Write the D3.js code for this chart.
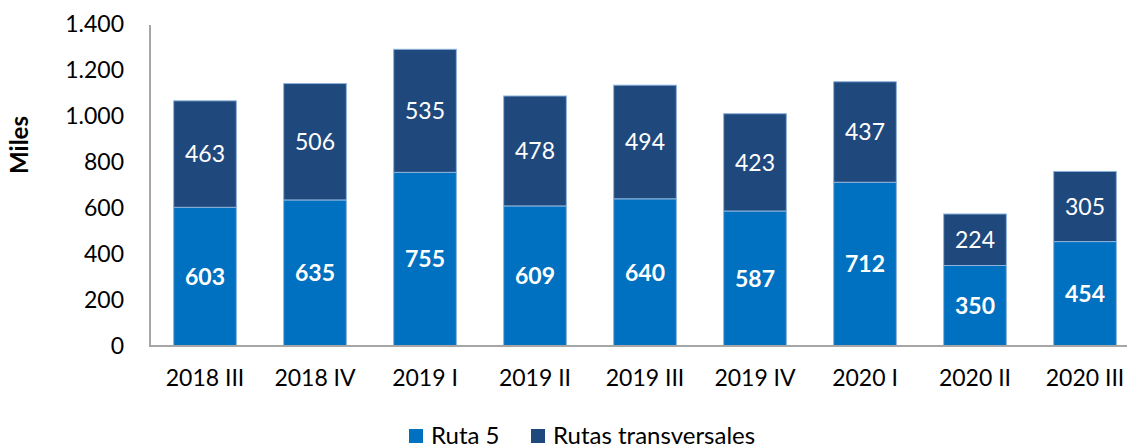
<!DOCTYPE html>
<html>
<head>
<meta charset="utf-8">
<script src="https://cdn.jsdelivr.net/npm/d3@7"></script>
<style>
  body { margin: 0; background: #fff; }
  svg { font-family: Lato, "Open Sans", sans-serif; }
</style>
</head>
<body>
<script>
var categories = ["2018 III", "2018 IV", "2019 I", "2019 II", "2019 III",
                  "2019 IV", "2020 I", "2020 II", "2020 III"];
var ruta5 = [603, 635, 755, 609, 640, 587, 712, 350, 454];
var transversales = [463, 506, 535, 478, 494, 423, 437, 224, 305];
var yTicks = [0, 200, 400, 600, 800, 1000, 1200, 1400];
var seriesNames = ["Ruta 5", "Rutas transversales"];
var colors = ["#0070c0", "#1f497d"];

var width = 1127, height = 445;
var plotLeft = 150, plotRight = 1140, plotTop = 24, plotBottom = 346;

var svg = d3.select("body").append("svg")
  .attr("width", width)
  .attr("height", height);

var x = d3.scaleBand()
  .domain(categories)
  .range([plotLeft, plotRight])
  .paddingInner(0.43)
  .paddingOuter(0.215);

var y = d3.scaleLinear()
  .domain([0, 1400])
  .range([plotBottom, plotTop]);

// build the stacked table
var rows = categories.map(function(c, i) {
  return { cat: c, "Ruta 5": ruta5[i], "Rutas transversales": transversales[i] };
});
var stacked = d3.stack().keys(seriesNames)(rows);

// y axis labels (no tick marks)
var yAxis = svg.append("g")
  .attr("transform", "translate(" + plotLeft + ",0)")
  .call(d3.axisLeft(y).tickValues(yTicks).tickSize(0).tickPadding(26)
    .tickFormat(function(d) { return d3.format(",")(d).replace(/,/g, "."); }));
yAxis.select(".domain").remove();
yAxis.selectAll("text")
  .attr("font-size", 23)
  .attr("font-family", "Lato, sans-serif")
  .attr("fill", "#000");

// bars
var layer = svg.append("g").selectAll("g")
  .data(stacked)
  .enter().append("g")
  .attr("fill", function(d, i) { return colors[i]; });

layer.selectAll("rect")
  .data(function(d) { return d; })
  .enter().append("rect")
  .attr("x", function(d) { return x(d.data.cat); })
  .attr("width", x.bandwidth())
  .attr("y", function(d) { return y(d[1]); })
  .attr("height", function(d) { return y(d[0]) - y(d[1]); })
  .attr("stroke", "#8db3dc")
  .attr("stroke-width", 1);

// value labels
layer.each(function(s, si) {
  d3.select(this).selectAll("text")
    .data(s)
    .enter().append("text")
    .attr("x", function(d) { return x(d.data.cat) + x.bandwidth() / 2; })
    .attr("y", function(d) { return (y(d[0]) + y(d[1])) / 2; })
    .attr("dy", "0.36em")
    .attr("text-anchor", "middle")
    .attr("fill", "#fff")
    .attr("font-size", 23)
    .attr("font-weight", si == 0 ? "bold" : "normal")
    .text(function(d) { return d[1] - d[0]; });
});

// axis lines
svg.append("line")
  .attr("x1", plotLeft).attr("x2", plotLeft)
  .attr("y1", y(1400) + 1).attr("y2", plotBottom)
  .attr("stroke", "#a6a6a6").attr("stroke-width", 2);
svg.append("line")
  .attr("x1", plotLeft - 1).attr("x2", plotRight)
  .attr("y1", plotBottom).attr("y2", plotBottom)
  .attr("stroke", "#a6a6a6").attr("stroke-width", 2);

// category labels
var xAxis = svg.append("g")
  .attr("transform", "translate(0," + plotBottom + ")")
  .call(d3.axisBottom(x).tickSize(0).tickPadding(24));
xAxis.select(".domain").remove();
xAxis.selectAll("text")
  .attr("font-size", 23)
  .attr("font-family", "Lato, sans-serif")
  .attr("fill", "#000");

// y title
svg.append("text")
  .attr("transform", "translate(28,145) rotate(-90)")
  .attr("text-anchor", "middle")
  .attr("font-size", 24)
  .attr("font-weight", "bold")
  .text("Miles");

// legend
var legendX = [409, 531];
var legend = svg.append("g").selectAll("g")
  .data(seriesNames)
  .enter().append("g")
  .attr("transform", function(d, i) { return "translate(" + legendX[i] + ",429)"; });
legend.append("rect")
  .attr("width", 14).attr("height", 14)
  .attr("fill", function(d, i) { return colors[i]; });
legend.append("text")
  .attr("x", 22).attr("y", 15)
  .attr("font-size", 24)
  .text(function(d) { return d; });
</script>
</body>
</html>
